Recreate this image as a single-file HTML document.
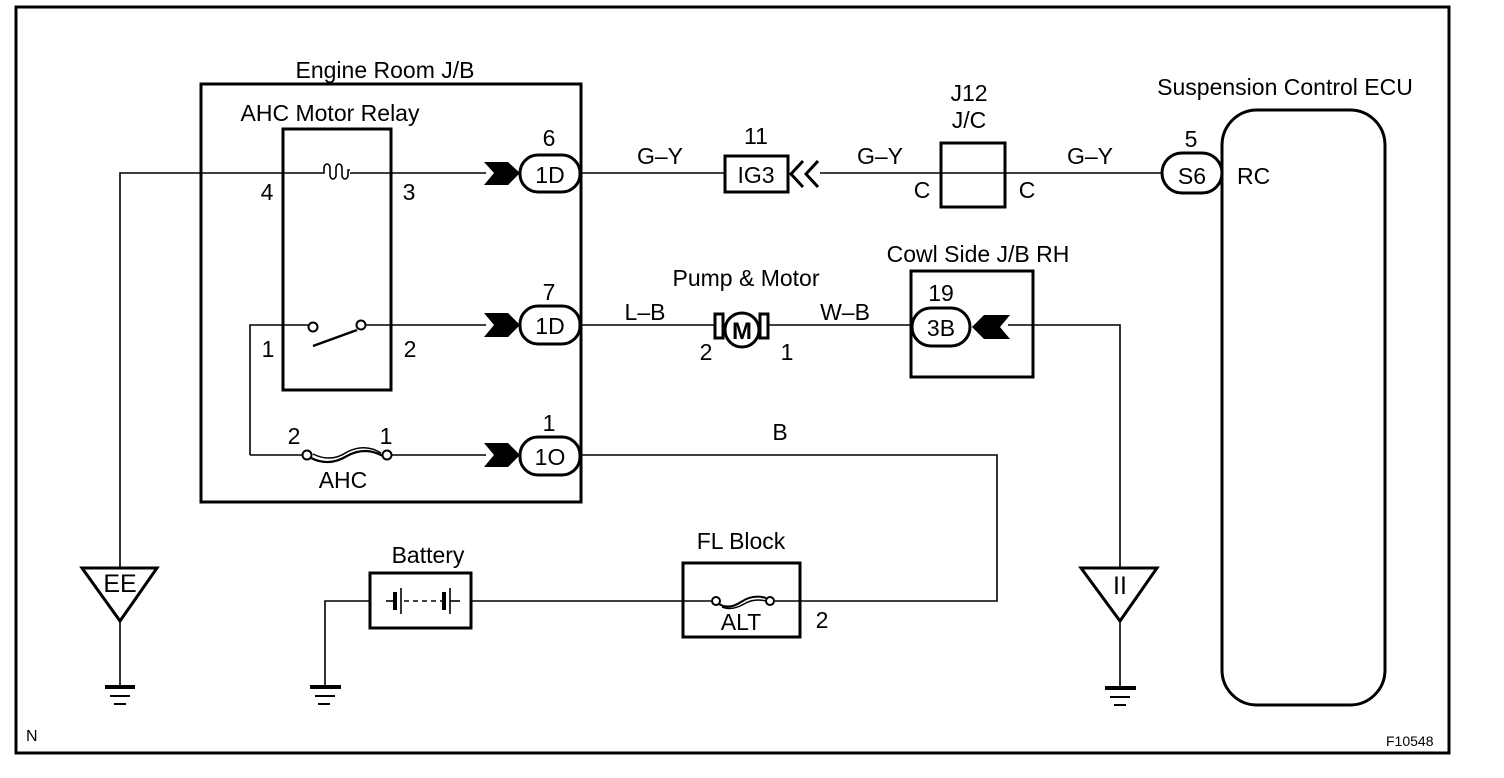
<!DOCTYPE html>
<html><head><meta charset="utf-8"><style>
html,body{margin:0;padding:0;background:#fff;}
svg{display:block;}
text{font-family:"Liberation Sans",Arial,sans-serif;fill:#000;}
</style></head><body>
<svg width="1504" height="778" viewBox="0 0 1504 778" xmlns="http://www.w3.org/2000/svg">
<g fill="none" stroke="#000">
<rect x="16" y="7" width="1433" height="746" stroke-width="3"/>
<rect x="201" y="84" width="380" height="418" stroke-width="3"/>
<rect x="283" y="129" width="108" height="261" stroke-width="3"/>
<g stroke-width="1.6">
<polyline points="120,568 120,173 322,173"/>
<path d="M322,173 h2 v-5 a3,4 0 0 1 6,0 v7 a3,4 0 0 0 6,0 v-7 a3,4 0 0 1 6,0 v7 a3,4 0 0 0 6,0 v-5 h2"/>
<line x1="350" y1="173" x2="486" y2="173"/>
<line x1="581" y1="173" x2="725" y2="173"/>
<line x1="820" y1="173" x2="1162" y2="173"/>
<polyline points="250,455 250,325 308,325"/>
<line x1="398" y1="325" x2="486" y2="325"/>
<line x1="581" y1="325" x2="715" y2="325"/>
<line x1="767" y1="325" x2="912" y2="325"/>
<polyline points="1008,325 1120,325 1120,568"/>
<line x1="250" y1="455" x2="302" y2="455"/>
<line x1="392" y1="455" x2="486" y2="455"/>
<polyline points="581,455 997,455 997,601 800,601"/>
<line x1="683" y1="601" x2="711" y2="601"/>
<line x1="775" y1="601" x2="800" y2="601"/>
<line x1="471" y1="601" x2="683" y2="601"/>
<polyline points="370,601 325,601 325,686"/>
<line x1="120" y1="621" x2="120" y2="686"/>
<line x1="1120" y1="621" x2="1120" y2="688"/>
</g>
<circle cx="313" cy="327" r="4.5" stroke-width="2"/>
<circle cx="361" cy="325" r="4.5" stroke-width="2"/>
<line x1="313" y1="346" x2="357" y2="330" stroke-width="2.5"/>
<line x1="366" y1="325" x2="398" y2="325" stroke-width="1.6"/>
<circle cx="307" cy="455" r="4.5" stroke-width="2"/>
<circle cx="387" cy="455" r="4.5" stroke-width="2"/>
<path d="M311,458 q18,9 36,-2 q18,-10 36,0" stroke-width="2.2"/>
<path d="M313,454 q18,9 34,-2 q18,-9 34,1" stroke-width="1.5"/>
<rect x="520" y="155" width="60" height="37" rx="18" stroke-width="3"/>
<rect x="520" y="306" width="60" height="38" rx="18" stroke-width="3"/>
<rect x="520" y="437" width="60" height="38" rx="18" stroke-width="3"/>
<rect x="1162" y="153" width="60" height="40" rx="20" stroke-width="3"/>
<rect x="912" y="308" width="58" height="38" rx="19" stroke-width="3"/>
<rect x="725" y="156" width="63" height="36" stroke-width="3"/>
<polyline points="803,161 791,174 803,187" stroke-width="3"/>
<polyline points="818,161 806,174 818,187" stroke-width="3"/>
<rect x="941" y="143" width="64" height="64" stroke-width="3"/>
<path d="M1222,145 a35,35 0 0 1 35,-35 H1350 a35,35 0 0 1 35,35 V670 a35,35 0 0 1 -35,35 H1257 a35,35 0 0 1 -35,-35 Z" stroke-width="3"/>
<rect x="715" y="314" width="8" height="24" stroke-width="3"/>
<rect x="760" y="314" width="8" height="24" stroke-width="3"/>
<circle cx="742" cy="330" r="17" stroke-width="3"/>
<rect x="911" y="271" width="122" height="106" stroke-width="3"/>
<rect x="370" y="573" width="101" height="55" stroke-width="3"/>
<rect x="683" y="563" width="117" height="74" stroke-width="3"/>
<circle cx="716" cy="601" r="4" stroke-width="2"/>
<circle cx="770" cy="601" r="4" stroke-width="2"/>
<path d="M719,604 q10,6 22,-2 q12,-8 25,-4" stroke-width="2"/>
<path d="M722,607 q10,4 22,-3 q10,-6 22,-3" stroke-width="1.5"/>
<polygon points="82,568 157,568 120,621" stroke-width="3"/>
<polygon points="1081,568 1157,568 1120,621" stroke-width="3"/>
</g>
<g stroke="#000">
<line x1="386" y1="601" x2="394" y2="601" stroke-width="1.6"/>
<line x1="395" y1="592" x2="395" y2="610" stroke-width="4"/>
<line x1="401" y1="588" x2="401" y2="614" stroke-width="1.6"/>
<line x1="404" y1="601" x2="442" y2="601" stroke-width="1.6" stroke-dasharray="5,4"/>
<line x1="444" y1="592" x2="444" y2="610" stroke-width="4"/>
<line x1="450" y1="588" x2="450" y2="614" stroke-width="1.6"/>
<line x1="450" y1="601" x2="460" y2="601" stroke-width="1.6"/>
</g>
<g fill="#000">
<rect x="105" y="685" width="30" height="4"/><rect x="110" y="695" width="20" height="2"/><rect x="114" y="703" width="12" height="2"/>
<rect x="310" y="685" width="31" height="4"/><rect x="315" y="695" width="20" height="2"/><rect x="318" y="703" width="12" height="2"/>
<rect x="1105" y="686" width="31" height="4"/><rect x="1110" y="696" width="20" height="2"/><rect x="1114" y="704" width="12" height="2"/>
<polygon points="484,162 508,162 520,173 508,185 484,185 494,173"/>
<polygon points="484,313 508,313 520,325 508,337 484,337 494,325"/>
<polygon points="484,443 508,443 520,455 508,467 484,467 494,455"/>
<polygon points="1010,315 984,315 972,327 984,339 1010,339 1000,327"/>
</g>
<g font-size="23">
<text x="385" y="78" text-anchor="middle">Engine Room J/B</text>
<text x="330" y="121" text-anchor="middle">AHC Motor Relay</text>
<text x="267" y="200" text-anchor="middle">4</text>
<text x="409" y="200" text-anchor="middle">3</text>
<text x="268" y="357" text-anchor="middle">1</text>
<text x="410" y="357" text-anchor="middle">2</text>
<text x="294" y="444" text-anchor="middle">2</text>
<text x="386" y="444" text-anchor="middle">1</text>
<text x="343" y="488" text-anchor="middle">AHC</text>
<text x="549" y="146" text-anchor="middle">6</text>
<text x="550" y="183" text-anchor="middle">1D</text>
<text x="549" y="300" text-anchor="middle">7</text>
<text x="550" y="334" text-anchor="middle">1D</text>
<text x="549" y="431" text-anchor="middle">1</text>
<text x="550" y="465" text-anchor="middle">1O</text>
<text x="660" y="164" text-anchor="middle">G–Y</text>
<text x="880" y="164" text-anchor="middle">G–Y</text>
<text x="1090" y="164" text-anchor="middle">G–Y</text>
<text x="756" y="144" text-anchor="middle">11</text>
<text x="756" y="183" text-anchor="middle">IG3</text>
<text x="969" y="101" text-anchor="middle">J12</text>
<text x="969" y="128" text-anchor="middle">J/C</text>
<text x="922" y="198" text-anchor="middle">C</text>
<text x="1027" y="198" text-anchor="middle">C</text>
<text x="1191" y="147" text-anchor="middle">5</text>
<text x="1192" y="184" text-anchor="middle">S6</text>
<text x="1237" y="184">RC</text>
<text x="1285" y="95" text-anchor="middle">Suspension Control ECU</text>
<text x="746" y="286" text-anchor="middle">Pump &amp; Motor</text>
<text x="645" y="320" text-anchor="middle">L–B</text>
<text x="845" y="320" text-anchor="middle">W–B</text>
<text x="706" y="360" text-anchor="middle">2</text>
<text x="787" y="360" text-anchor="middle">1</text>
<text x="742" y="339" text-anchor="middle" font-weight="bold" font-size="24">M</text>
<text x="978" y="262" text-anchor="middle">Cowl Side J/B RH</text>
<text x="941" y="301" text-anchor="middle">19</text>
<text x="941" y="336" text-anchor="middle">3B</text>
<text x="780" y="440" text-anchor="middle">B</text>
<text x="428" y="563" text-anchor="middle">Battery</text>
<text x="741" y="549" text-anchor="middle">FL Block</text>
<text x="741" y="630" text-anchor="middle">ALT</text>
<text x="822" y="628" text-anchor="middle">2</text>
<text x="120" y="592" text-anchor="middle" font-size="25">EE</text>
<text x="1120" y="594" text-anchor="middle" font-size="25">II</text>
</g>
<text x="26" y="741" font-size="16">N</text>
<text x="1386" y="746" font-size="14">F10548</text>
</svg>
</body></html>
